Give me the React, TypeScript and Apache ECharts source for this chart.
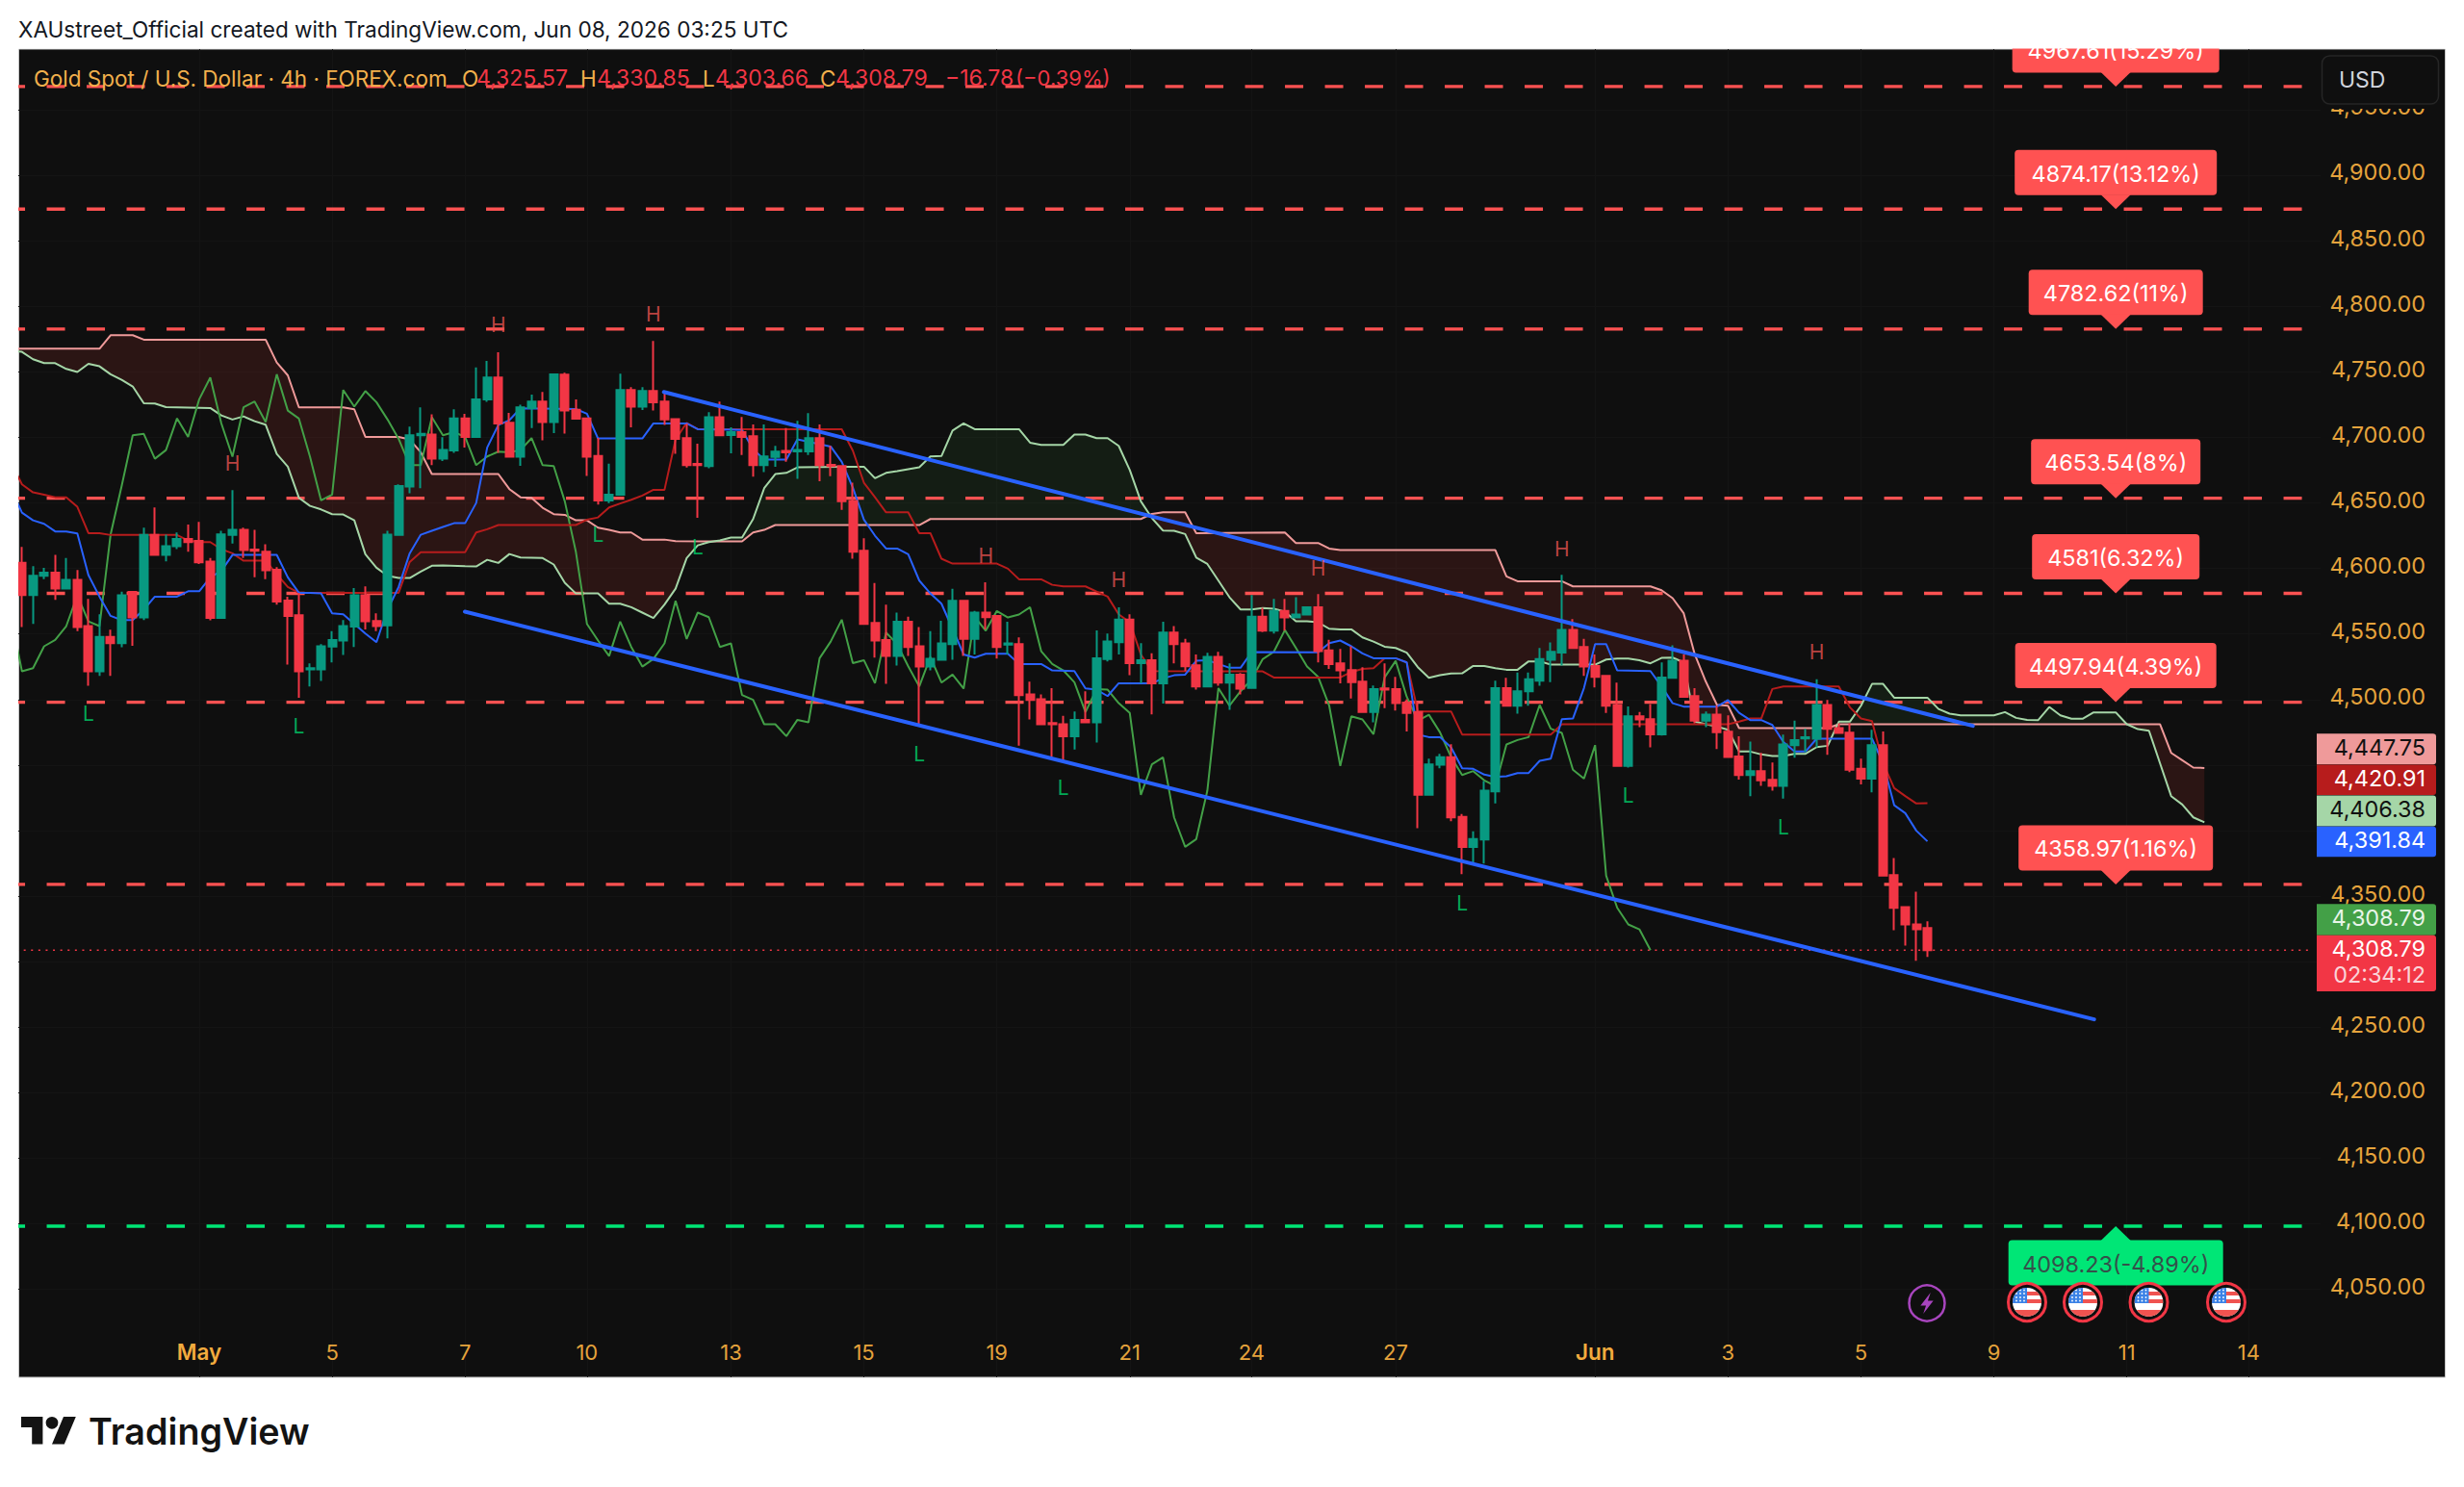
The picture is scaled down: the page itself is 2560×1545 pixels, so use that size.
import React, { useEffect, useRef } from 'react';
import * as echarts from 'echarts';

// 4h candles
const opens = [
  4604.2, 4579.7, 4594.4, 4596.8, 4584.6, 4591.2, 4556, 4521.5, 4547.7, 4543,
  4582, 4562.6, 4625.5, 4610.3, 4616.9, 4622.5, 4621, 4605.2, 4562.3, 4625.5,
  4629.4, 4614.4, 4612.7, 4599, 4575.5, 4564.3, 4522.9, 4522.9, 4540.4, 4545,
  4555.7, 4579.5, 4559.9, 4556.5, 4625.5, 4662.4, 4701.6, 4702.1, 4683.7, 4690,
  4714.5, 4700.3, 4729, 4745.6, 4711.1, 4685.2, 4722.4, 4727.3, 4711.6, 4747.8,
  4721.1, 4714.5, 4685.7, 4651.9, 4656.3, 4736.1, 4723.4, 4735.3, 4727.3, 4713.8,
  4699.4, 4679.8, 4678.1, 4715.3, 4701.8, 4704, 4700.8, 4678.8, 4685, 4689.6,
  4689.3, 4689.3, 4699.4, 4679, 4678.1, 4651.4, 4613.5, 4558.4, 4545.4, 4533.2,
  4559.4, 4540.6, 4525.1, 4530.3, 4542.3, 4575.3, 4546.2, 4566.3, 4563.8, 4541.8,
  4542.3, 4503.9, 4500.2, 4482.1, 4481.1, 4472, 4484.5, 4482.6, 4530.8, 4543.7,
  4560.9, 4527.8, 4530, 4512.4, 4551.1, 4542.8, 4526.1, 4510, 4532.5, 4512.9,
  4519, 4508.8, 4563.1, 4552.5, 4567.5, 4562.6, 4564.8, 4570.4, 4537.4, 4527.6,
  4522.4, 4513.6, 4490.4, 4508.5, 4508, 4497.7, 4490.4, 4427.3, 4450.3, 4455.9,
  4410.4, 4387.6, 4393.2, 4429.9, 4508.7, 4495.3, 4506.3, 4514.4, 4530.3, 4535.9,
  4553, 4540, 4525.6, 4518, 4495.8, 4449.3, 4487.2, 4485, 4473.5, 4516.6,
  4529.5, 4502.6, 4483.8, 4488.4, 4475.5, 4456.6, 4442.4, 4445.4, 4438.8, 4434.1,
  4465.2, 4470.3, 4470.1, 4495.8, 4478.2, 4474.7, 4447.1, 4439.7, 4465.2, 4366,
  4341.6, 4328.4, 4325.57,
];
const closes = [
  4579.7, 4594.4, 4596.8, 4584.6, 4591.2, 4555.2, 4521.5, 4547.7, 4543, 4579.5,
  4562.6, 4625.5, 4610.3, 4616.9, 4622.5, 4620.1, 4604.7, 4562.3, 4626, 4629.4,
  4614, 4613.5, 4598.6, 4574.8, 4563.8, 4521.5, 4523.9, 4540.6, 4545.4, 4556,
  4579.5, 4559.6, 4556, 4625.7, 4662.9, 4701.6, 4702.6, 4683.7, 4690.3, 4714.5,
  4700.3, 4729, 4745.6, 4710.6, 4685.2, 4722.9, 4727.3, 4711.6, 4748.1, 4720.4,
  4714.3, 4685.2, 4651.9, 4656.3, 4736.1, 4723.4, 4735.3, 4726.8, 4713.6, 4698.9,
  4678.8, 4678.8, 4715.3, 4701.6, 4704, 4700.3, 4678.8, 4685.4, 4689.1, 4688.6,
  4690.3, 4699.4, 4678.8, 4678.1, 4651.2, 4612.7, 4557.7, 4545, 4533.2, 4559.4,
  4540.1, 4525.1, 4531, 4542.8, 4575.3, 4546.2, 4566.3, 4562.8, 4540.1, 4542.8,
  4503.4, 4499.7, 4481.1, 4481.1, 4472, 4484.5, 4482.6, 4531.5, 4544.2, 4560.9,
  4527.8, 4530, 4512.4, 4551.1, 4542.3, 4525.4, 4510, 4532.5, 4512.9, 4519,
  4508.3, 4563.1, 4552.5, 4567.5, 4562.6, 4564.8, 4570.4, 4536.9, 4527.1, 4522.2,
  4513.2, 4490.4, 4508, 4507.5, 4497.2, 4489.7, 4427.3, 4450.5, 4455.9, 4410.1,
  4387.6, 4393.5, 4430.4, 4508.7, 4495.3, 4506.3, 4515.4, 4530.8, 4536.4, 4553,
  4539.3, 4525.1, 4517.3, 4495.3, 4449.3, 4487.2, 4484.8, 4473.5, 4516.8, 4529.5,
  4502.1, 4483.8, 4488.4, 4475, 4456.1, 4442.4, 4445.4, 4438.3, 4434.1, 4465.7,
  4469.1, 4471.3, 4495.8, 4477.7, 4474.5, 4446.4, 4439.7, 4465.2, 4365.6, 4341.1,
  4328.4, 4324.7, 4308.79,
];
const highs = [
  4616.4, 4601.7, 4600.5, 4610.3, 4607.9, 4598.8, 4576.8, 4565, 4553.3, 4582.2,
  4582.2, 4631.1, 4646.5, 4625.7, 4627.4, 4633.5, 4635.5, 4607.9, 4628.7, 4659.7,
  4631.1, 4629.4, 4618.4, 4601, 4578.5, 4581.4, 4527.6, 4542.3, 4552.1, 4560.6,
  4585.1, 4586.3, 4565.8, 4628.7, 4664.1, 4708.2, 4722.9, 4717.5, 4700.1, 4721.4,
  4718, 4753.4, 4758.3, 4764.9, 4718.7, 4724.8, 4732.6, 4734.6, 4748.5, 4749.3,
  4729, 4714.9, 4699.6, 4680, 4748.6, 4738.3, 4738.3, 4773.5, 4733.9, 4714,
  4710.6, 4695.2, 4719.2, 4727.3, 4707.7, 4715.5, 4709.9, 4709.9, 4693.5, 4707,
  4712.6, 4718.5, 4709.9, 4693.5, 4678.3, 4665.4, 4623, 4588.8, 4572.4, 4566.3,
  4563.1, 4555.2, 4552.1, 4560.1, 4584.4, 4575.8, 4567.5, 4589.5, 4564, 4559.4,
  4547.4, 4513.6, 4503.9, 4508.7, 4487.5, 4490.9, 4506.3, 4552.8, 4550.4, 4570.4,
  4565, 4543, 4535.2, 4559.4, 4556, 4546.2, 4534.4, 4535.7, 4536.4, 4527.6,
  4520.2, 4579.7, 4569.9, 4576.8, 4576.8, 4578, 4571.1, 4580.4, 4545.5, 4538.6,
  4540.6, 4524.7, 4510.7, 4527.6, 4517.3, 4500.2, 4498.2, 4454.9, 4458.6, 4465.9,
  4412.6, 4399.4, 4437.8, 4514.4, 4516.6, 4520.5, 4520.5, 4539.4, 4543.5, 4595.1,
  4561.4, 4546.2, 4534.4, 4518.5, 4512.9, 4494.8, 4490.4, 4496.5, 4528.3, 4541.3,
  4534.4, 4508.7, 4490.9, 4495.3, 4487.9, 4472, 4467.9, 4459.3, 4452, 4473.3,
  4483.8, 4477.7, 4515.4, 4499.7, 4481.8, 4481.8, 4454.9, 4476.9, 4475.7, 4379.1,
  4342, 4353.4, 4330.85,
];
const lows = [
  4555.2, 4557.7, 4591.9, 4576, 4584, 4552.1, 4510.5, 4518, 4518, 4539.8,
  4541, 4560.6, 4610, 4605.4, 4614.7, 4612.7, 4603.4, 4560.4, 4562, 4618.9,
  4607.9, 4593.2, 4591.9, 4572.4, 4526.6, 4501.4, 4510, 4514.1, 4528.3, 4534,
  4540.1, 4553.5, 4552.1, 4546.7, 4625, 4657.3, 4661.2, 4678.8, 4682, 4688.1,
  4692.3, 4700, 4727, 4688.1, 4685, 4678.3, 4707, 4697.7, 4703.3, 4702.8,
  4714, 4670.5, 4648.7, 4649.9, 4655.6, 4707.7, 4720.9, 4720.4, 4709.4, 4687.4,
  4676.9, 4638.7, 4676.4, 4701, 4687.9, 4686.6, 4670, 4673.4, 4677.6, 4681.3,
  4668.3, 4686.6, 4666.6, 4670.3, 4644.6, 4607.4, 4557, 4532, 4511.9, 4525.9,
  4533.2, 4480.6, 4522.2, 4529.5, 4530.3, 4533.2, 4534.4, 4553.5, 4531.3, 4534.4,
  4464.7, 4484.8, 4480.9, 4456.1, 4453.2, 4461.8, 4481.8, 4467.1, 4529.1, 4534.4,
  4518.5, 4512.4, 4488.7, 4497, 4527.6, 4521.7, 4507.5, 4509.5, 4510.5, 4492.1,
  4503.9, 4508.5, 4551.5, 4550.3, 4552.5, 4562, 4564.5, 4528.3, 4523.4, 4512.4,
  4500.7, 4490, 4482.6, 4493.4, 4491.6, 4475.7, 4401.8, 4426.8, 4447.6, 4407.2,
  4366.8, 4375.4, 4374.9, 4420.7, 4495, 4489.2, 4495.3, 4510.5, 4513.2, 4525.9,
  4539, 4518, 4509.2, 4489.7, 4448.8, 4448, 4478.9, 4463.5, 4472.5, 4516,
  4501.7, 4481.8, 4478.9, 4462.3, 4455.6, 4439, 4426.3, 4434.1, 4430.4, 4424.4,
  4455.6, 4459.8, 4463.5, 4457.9, 4474, 4444.6, 4435.3, 4429.2, 4365.2, 4324,
  4312.3, 4300.7, 4303.66,
];

// ichimoku lines as [bar, price] at each vertex
const senkouB: number[][] = [
  [-0.5, 4767.6], [7, 4767.6], [8, 4777.9], [10, 4777.9], [11, 4774.5], [22, 4774.5], [23, 4757.1], [24, 4747.3],
  [25, 4722.9], [29, 4722.9], [30, 4721.4], [31, 4700.3], [34, 4700.3], [35, 4698.4], [36, 4688.6], [37, 4672],
  [43, 4672], [44, 4660.5], [45, 4654.3], [46, 4653.9], [47, 4646.3], [48, 4641.4], [49, 4640.9], [50, 4636.7],
  [51, 4636.7], [52, 4631.1], [53, 4629.4], [54, 4627.4], [55, 4627.4], [56, 4622], [58, 4622], [59, 4620.8],
  [62, 4620.7], [65, 4620.6], [66, 4627.4], [67, 4629.4], [68, 4633.1], [81, 4633.1], [82, 4637.7], [101, 4637.7],
  [102, 4641.6], [103, 4642.8], [105, 4642.8], [106, 4626.9], [114, 4627.4], [115, 4619.4], [117, 4619.4], [118, 4615.2],
  [119, 4614], [133, 4614], [134, 4593.9], [135, 4590.2], [139, 4590.2], [140, 4586.3], [147, 4586.3], [148, 4583.4],
  [149, 4577.3], [150, 4565.8], [151, 4534.4], [152, 4513.6], [153, 4496], [154, 4495.3], [155, 4478.2], [163, 4478.2],
  [164, 4481.1], [190, 4481.1], [193, 4481.1], [194, 4459.3], [195, 4453.7], [196, 4448.1], [197, 4447.75],
];
const senkouA: number[][] = [
  [-0.5, 4765.7], [0, 4765.2], [1, 4759.6], [2, 4756.6], [3, 4756.6], [4, 4752.2], [5, 4749.8], [6, 4756.1], [7, 4754.2],
  [8, 4748.1], [9, 4743.9], [10, 4738.8], [11, 4726], [12, 4725.8], [13, 4723.1], [17, 4722.4], [18, 4716.7], [19, 4713.6],
  [20, 4716], [21, 4712.3], [22, 4709.6], [23, 4687.4], [24, 4677.6], [25, 4653.9], [26, 4647.7], [27, 4645], [28, 4641.4],
  [29, 4641.1], [30, 4636.7], [31, 4610.8], [32, 4600.5], [33, 4594.4], [34, 4592.7], [35, 4592.7], [36, 4597.6], [37, 4602],
  [38, 4602.2], [40, 4601.7], [41, 4601.5], [42, 4606.6], [43, 4604.2], [44, 4611], [45, 4608.3], [47, 4607.9], [48, 4603],
  [49, 4589], [50, 4580.9], [52, 4580.9], [53, 4573.1], [54, 4573.1], [55, 4570.4], [56, 4566.3], [57, 4562.1], [58, 4572.4],
  [59, 4584.6], [60, 4607.9], [61, 4617.6], [62, 4620.1], [63, 4621.3], [64, 4623.5], [65, 4623.5], [66, 4637.7], [67, 4661.2],
  [68, 4672], [69, 4672.9], [70, 4677.1], [74, 4677.6], [76, 4677.6], [77, 4668.8], [78, 4672.9], [79, 4674.2], [81, 4677.1],
  [82, 4685.4], [83, 4685.7], [84, 4705.2], [85, 4710.6], [86, 4706.2], [90, 4706.2], [91, 4695.9], [92, 4694.2], [94, 4694.2],
  [95, 4702.1], [96, 4702.1], [97, 4699.4], [98, 4699.4], [99, 4693.5], [100, 4675.1], [101, 4651.2], [102, 4638.4], [103, 4628.9],
  [104, 4628.7], [105, 4626.2], [106, 4608.3], [107, 4603.4], [108, 4590.7], [109, 4578], [110, 4568.7], [111, 4568.7], [112, 4569.7],
  [113, 4569.2], [114, 4567], [115, 4559.6], [116, 4559.6], [117, 4558.9], [118, 4554], [119, 4553.5], [120, 4553.5], [121, 4547.4],
  [122, 4544.2], [123, 4540.3], [124, 4539.3], [125, 4535.7], [126, 4524.7], [127, 4516.6], [128, 4518.5], [129, 4519.8], [130, 4520],
  [131, 4525.6], [132, 4525.6], [133, 4523.9], [134, 4522.7], [135, 4522.7], [136, 4529.1], [137, 4529.1], [138, 4526.6], [142, 4526.6],
  [143, 4530.5], [144, 4531.3], [145, 4531.3], [146, 4530], [147, 4527.6], [148, 4531.7], [149, 4532], [150, 4528.3], [151, 4483.1],
  [152, 4481.1], [153, 4479.4], [154, 4476.9], [155, 4460.3], [156, 4460.3], [157, 4458.1], [158, 4456.9], [159, 4456.9], [160, 4458.6],
  [161, 4458.6], [162, 4463.7], [163, 4464.7], [164, 4483.1], [165, 4483.1], [166, 4495.3], [167, 4511.9], [168, 4511.9], [169, 4501.4],
  [172, 4501.4], [173, 4492.8], [174, 4489.2], [175, 4487.9], [178, 4487.9], [179, 4490.4], [180, 4486], [181, 4484.5], [182, 4484.3],
  [183, 4494.3], [184, 4487.9], [185, 4485.3], [186, 4485.3], [187, 4490.2], [189, 4490.2], [190, 4481.1], [191, 4477.4], [192, 4476.2],
  [193, 4451.2], [194, 4426.3], [195, 4419.9], [196, 4410.1], [197, 4406.38],
];
const kijun: number[][] = [
  [-0.5, 4672.7], [0, 4664.1], [1, 4658], [2, 4656.3], [3, 4654.3], [4, 4654.3], [5, 4647], [6, 4626.9], [7, 4626.9], [8, 4625.5],
  [14, 4625.5], [15, 4621.3], [16, 4620.1], [17, 4620.1], [18, 4614.7], [19, 4611.5], [20, 4605.9], [22, 4605.9], [23, 4595.6],
  [24, 4585.8], [25, 4581.4], [34, 4581.4], [35, 4604.9], [36, 4612.3], [40, 4612.3], [41, 4627.4], [42, 4629.9], [43, 4633.1],
  [50, 4633.1], [51, 4637.2], [52, 4638.9], [53, 4646.5], [54, 4649.5], [55, 4652.4], [56, 4655.6], [57, 4660], [58, 4660],
  [59, 4698.4], [60, 4711.1], [61, 4706.2], [74, 4706.2], [75, 4689.8], [76, 4665.4], [77, 4654.3], [78, 4642.8], [80, 4642.8],
  [81, 4626.9], [82, 4626.9], [83, 4607.4], [84, 4603.7], [88, 4603.7], [89, 4599.8], [90, 4591.7], [92, 4591.7], [93, 4587.5],
  [94, 4586.3], [96, 4586.3], [97, 4582.4], [98, 4578.5], [99, 4565], [100, 4558.9], [101, 4534.4], [102, 4521.7], [112, 4521.5],
  [113, 4516.8], [119, 4516.8], [120, 4521], [121, 4523.4], [122, 4523.9], [123, 4531.5], [124, 4531.5], [125, 4528.3], [126, 4490.9],
  [129, 4490.9], [130, 4473.3], [138, 4473.3], [139, 4481.1], [154, 4481.1], [155, 4483.1], [156, 4485.5], [157, 4485.5], [158, 4508],
  [159, 4510], [164, 4510], [165, 4494.1], [166, 4485.5], [167, 4483.5], [168, 4451.2], [169, 4432.4], [170, 4426.3], [171, 4420.7],
  [172, 4420.91],
];
const tenkan: number[][] = [
  [-0.5, 4651.9], [0, 4642.6], [1, 4636.7], [2, 4634], [3, 4628.2], [4, 4628.2], [5, 4626.7], [6, 4594.9], [7, 4578.5], [8, 4563.8],
  [9, 4560.6], [10, 4560.6], [11, 4568.7], [12, 4578.5], [14, 4578.5], [15, 4582.6], [16, 4582.6], [17, 4593.2], [18, 4598.1],
  [19, 4610.3], [23, 4610.3], [24, 4593.2], [25, 4581.4], [26, 4581.4], [27, 4580.9], [28, 4565.8], [29, 4565], [30, 4557.7],
  [31, 4550.3], [32, 4543.7], [33, 4568.7], [34, 4585.8], [35, 4611.5], [36, 4625.7], [37, 4628.7], [38, 4631.6], [39, 4634.5],
  [40, 4634.5], [41, 4649.9], [42, 4692.3], [43, 4709.4], [44, 4713.1], [45, 4722.1], [50, 4721.6], [51, 4718], [52, 4699.1],
  [56, 4699.1], [57, 4710.6], [60, 4710.6], [61, 4706.2], [65, 4705.7], [66, 4691], [67, 4683], [69, 4683], [70, 4698.4], [73, 4693],
  [74, 4681.3], [75, 4661.7], [76, 4637.2], [77, 4625], [78, 4615.2], [79, 4615.2], [80, 4610.8], [81, 4590.7], [82, 4580.9],
  [83, 4573.1], [84, 4554], [85, 4534.4], [86, 4532], [87, 4534.9], [89, 4534.9], [90, 4527.1], [92, 4527.1], [93, 4522.2], [95, 4521.7],
  [96, 4508.5], [97, 4507.5], [98, 4502.6], [99, 4512.4], [102, 4512.4], [103, 4516.1], [104, 4518.5], [105, 4519], [106, 4529.5],
  [107, 4530], [108, 4527.1], [109, 4524.2], [110, 4524.2], [111, 4536.2], [117, 4536], [118, 4543], [119, 4545], [120, 4540.6],
  [121, 4535.2], [122, 4531.5], [124, 4531.5], [125, 4528.3], [126, 4473.3], [127, 4471.3], [128, 4471.3], [129, 4463.5], [130, 4447.6],
  [131, 4447.1], [132, 4442.7], [133, 4441], [134, 4441.5], [135, 4443.9], [136, 4443.9], [137, 4453.2], [138, 4454.9], [139, 4485],
  [140, 4485.5], [141, 4508.8], [142, 4542.3], [143, 4542.3], [144, 4522.2], [147, 4521.7], [148, 4510], [149, 4497.2], [150, 4494.6],
  [153, 4494.6], [154, 4499.5], [155, 4489.9], [156, 4484.3], [157, 4484.3], [158, 4480.6], [159, 4467.6], [160, 4460.3], [161, 4460.3],
  [162, 4470.1], [167, 4470.1], [168, 4451.2], [169, 4419.4], [170, 4413.3], [171, 4399.9], [172, 4391.84],
];

// cloud stretches between crossings of the two spans
const cloudRegions = [
  [-0.5, 62, 'rgba(244,67,54,0.12)'],
  [62, 102, 'rgba(67,160,71,0.1)'],
  [102, 164, 'rgba(244,67,54,0.12)'],
  [164, 190, 'rgba(67,160,71,0.1)'],
  [190, 197, 'rgba(244,67,54,0.12)'],
];

// trend channel
const upperTrend = [[57.94, 4734.6], [176.1, 4479.9]];
const lowerTrend = [[39.98, 4567], [187.05, 4256]];

// target levels
const levelPrices = [4967.61, 4874.17, 4782.62, 4653.54, 4581, 4497.94, 4358.97, 4098.23];
const levelLabels = [
  '4967.61(15.29%)', '4874.17(13.12%)', '4782.62(11%)', '4653.54(8%)',
  '4581(6.32%)', '4497.94(4.39%)', '4358.97(1.16%)', '4098.23(-4.89%)',
];
const tagWidths = [215, 210, 181, 176, 174, 209, 202, 223];
const tagBar = 189;

const highMarks = [[43, 4786], [57, 4793.8], [19, 4680], [87, 4609.6], [99, 4591.2], [117, 4600], [139, 4614.7], [162, 4536.2]];
const lowMarks = [[6, 4489.2], [25, 4479.4], [52, 4625.7], [61, 4615.9], [81, 4458.1], [94, 4433], [130, 4344.8], [145, 4426.8], [159, 4402.3]];

const lastPrice = 4308.79;
const priceTicks = [4050, 4100, 4150, 4200, 4250, 4300, 4350, 4400, 4450, 4500, 4550, 4600, 4650, 4700, 4750, 4800, 4850, 4900, 4950];
// 4,300 / 4,400 / 4,450 sit behind the price tags
const priceLabels = [4050, 4100, 4150, 4200, 4250, 4350, 4500, 4550, 4600, 4650, 4700, 4750, 4800, 4850, 4900, 4950];
const timeTickBars = [16, 28, 40, 51, 64, 76, 88, 100, 111, 124, 142, 154, 166, 178, 190, 201];
const timeTickLabels = ['May', '5', '7', '10', '13', '15', '19', '21', '24', '27', 'Jun', '3', '5', '9', '11', '14'];

const BAR_COUNT = 208;
const FONT = 'Inter';
const AXIS_ORANGE = '#E5A33C';

const categories = Array.from({ length: BAR_COUNT }, (_, i) => {
  const at = timeTickBars.indexOf(i);
  return at >= 0 ? timeTickLabels[at] : '';
});

const flagSvg =
  "<svg xmlns='http://www.w3.org/2000/svg' width='90' height='90' viewBox='0 0 30 30'>" +
  "<clipPath id='c'><circle cx='15' cy='15' r='15'/></clipPath><g clip-path='url(#c)'>" +
  "<rect width='30' height='30' fill='#fff'/>" +
  "<rect y='4' width='30' height='4' fill='#F05350'/><rect y='12' width='30' height='4' fill='#F05350'/>" +
  "<rect y='23' width='30' height='8' fill='#F05350'/>" +
  "<rect width='15' height='16' fill='#3B82E6'/>" +
  "<g fill='#fff'><circle cx='4' cy='6' r='.9'/><circle cx='8' cy='6' r='.9'/><circle cx='12' cy='6' r='.9'/>" +
  "<circle cx='4' cy='10' r='.9'/><circle cx='8' cy='10' r='.9'/><circle cx='12' cy='10' r='.9'/>" +
  "<circle cx='8' cy='2.5' r='.9'/><circle cx='12' cy='2.5' r='.9'/><circle cx='4' cy='13.5' r='.9'/><circle cx='8' cy='13.5' r='.9'/><circle cx='12' cy='13.5' r='.9'/></g>" +
  '</g></svg>';
const flagImage = 'data:image/svg+xml;charset=utf-8,' + encodeURIComponent(flagSvg);

echarts.graphic.registerShape(
  'tvMark',
  echarts.graphic.extendPath('M14 22H7V11H0V4h14v18ZM28 22h-8l7.5-18h8L28 22ZM16 8a4 4 0 1 0 8 0a4 4 0 1 0 -8 0Z', {}),
);
echarts.graphic.registerShape(
  'bolt',
  echarts.graphic.extendPath('M4 -13L-7 3H-1L-4 13L7 -3H1Z', {}),
);

const txt = (text: string, x: number, y: number, fill: string, size = 22, extra: any = {}) => ({
  type: 'text',
  x,
  y,
  z: 60,
  style: {
    text,
    fill,
    font: `${extra.weight || 400} ${size}px ${FONT}`,
    textAlign: extra.align || 'left',
    textVerticalAlign: 'middle',
  },
});

const priceTag = (label: string, top: number, h: number, fill: string, color: string) => [
  { type: 'rect', z: 55, shape: { x: 2407, y: top, width: 124, height: h, r: [0, 3, 3, 0] }, style: { fill } },
  txt(label, 2520, top + h / 2 - 2, color, 23.4, { align: 'right' }),
];

const flagAt = (x: number) => [
  { type: 'circle', z: 58, shape: { cx: x, cy: 1353, r: 19.5 }, style: { fill: '#0F0F0F', stroke: '#F23645', lineWidth: 3 } },
  { type: 'image', z: 59, style: { image: flagImage, x: x - 15, y: 1338, width: 30, height: 30 } },
];

const lineSeries = (name: string, data: number[][], color: string, width: number, z: number) => ({
  name,
  type: 'line',
  xAxisIndex: 1,
  data,
  symbol: 'none',
  z,
  lineStyle: { color, width },
  emphasis: { disabled: true },
});

const markSeries = (marks: number[][], text: string, color: string) => ({
  type: 'scatter',
  xAxisIndex: 1,
  data: marks,
  symbolSize: 1,
  z: 7,
  itemStyle: { color: 'transparent' },
  label: { show: true, position: 'inside', formatter: text, color, fontFamily: FONT, fontSize: 21 },
});

export default function App() {
  const chartRef = useRef<HTMLDivElement>(null);

  useEffect(() => {
    document.body.style.margin = '0';
    document.body.style.background = '#fff';
    if (!chartRef.current) return;
    const chart = echarts.init(chartRef.current, undefined, { renderer: 'svg' });

    const candleData = opens.map((o, i) => [o, closes[i], lows[i], highs[i]]);
    // lagging span is the close drawn 25 bars back
    const chikou = closes.map((c, i) => [i - 25, c]).filter(p => p[0] >= -1);

    const levelSeries = levelPrices.map(p => ({
      type: 'line',
      xAxisIndex: 1,
      symbol: 'none',
      z: 2,
      data: [[-0.5, p], [206.16, p]],
      lineStyle: {
        color: p < lastPrice ? '#00E676' : '#FF5252',
        width: 3.4,
        type: [19, 22.5],
        dashOffset: 9.55,
      },
    }));

    const option: any = {
      animation: false,
      backgroundColor: '#ffffff',
      grid: { left: 17.05, top: 51, width: 2394.08, height: 1380, containLabel: false },
      xAxis: [
        {
          type: 'category',
          data: categories,
          position: 'bottom',
          axisLine: { show: false },
          axisTick: { show: false },
          splitLine: { show: false },
          axisLabel: {
            interval: 0,
            inside: true,
            margin: 15.5,
            color: AXIS_ORANGE,
            fontFamily: FONT,
            fontSize: 22,
            formatter: (v: string) => (v === 'May' || v === 'Jun' ? `{b|${v}}` : v),
            rich: { b: { color: '#F2AB3E', fontFamily: FONT, fontSize: 22.5, fontWeight: 600 } },
          },
        },
        {
          type: 'value',
          min: -0.5,
          max: BAR_COUNT - 0.5,
          position: 'bottom',
          axisLine: { show: false },
          axisTick: { show: false, customValues: timeTickBars },
          axisLabel: { show: false },
          splitLine: { show: true, lineStyle: { color: '#141414', width: 1 } },
        },
      ],
      yAxis: {
        type: 'value',
        min: 3982.96,
        max: 4996.18,
        position: 'right',
        axisLine: { show: false },
        axisTick: { show: false, customValues: priceTicks },
        splitLine: { show: true, lineStyle: { color: '#141414', width: 1 } },
        axisLabel: {
          customValues: priceLabels,
          align: 'right',
          verticalAlign: 'bottom',
          lineHeight: 6,
          margin: 109,
          color: AXIS_ORANGE,
          fontFamily: FONT,
          fontSize: 23.4,
          formatter: (v: number) => v.toLocaleString('en-US', { minimumFractionDigits: 2 }),
        },
      },
      series: [
        {
          type: 'custom',
          xAxisIndex: 1,
          z: 1,
          clip: true,
          data: cloudRegions.map((r, i) => [r[0], i]),
          encode: { x: 0, y: 1 },
          renderItem: (params: any, api: any) => {
            const [from, to, fill] = cloudRegions[params.dataIndex] as any;
            const inside = (p: number[]) => p[0] >= from && p[0] <= to;
            const top = senkouA.filter(inside);
            const bottom = senkouB.filter(inside).reverse();
            return {
              type: 'polygon',
              shape: { points: [...top, ...bottom].map(p => api.coord(p)) },
              style: { fill },
            };
          },
        },
        ...levelSeries,
        {
          type: 'line',
          xAxisIndex: 1,
          symbol: 'none',
          z: 2,
          data: [[-0.5, lastPrice], [206.8, lastPrice]],
          lineStyle: { color: '#F23645', width: 1.5, type: [2, 5.6] },
        },
        lineSeries('Senkou B', senkouB, '#EF9A9A', 2, 3),
        lineSeries('Senkou A', senkouA, '#A5D6A7', 2, 3),
        lineSeries('Lagging', chikou, '#43A047', 2, 3),
        lineSeries('Kijun', kijun, '#B71C1C', 2, 3),
        lineSeries('Tenkan', tenkan, '#2962FF', 2, 3),
        {
          type: 'candlestick',
          xAxisIndex: 0,
          z: 4,
          barWidth: 8.5,
          data: candleData,
          itemStyle: {
            color: '#089981',
            color0: '#F23645',
            borderColor: '#089981',
            borderColor0: '#F23645',
            borderWidth: 2,
          },
        },
        { ...lineSeries('Upper', upperTrend, '#2962FF', 4, 5), lineStyle: { color: '#2962FF', width: 4, cap: 'round' } },
        { ...lineSeries('Lower', lowerTrend, '#2962FF', 4, 5), lineStyle: { color: '#2962FF', width: 4, cap: 'round' } },
        markSeries(highMarks, 'H', '#E8524F'),
        markSeries(lowMarks, 'L', '#00D26A'),
        {
          type: 'custom',
          xAxisIndex: 1,
          z: 8,
          data: levelPrices.map(p => [tagBar, p]),
          encode: { x: 0, y: 1 },
          renderItem: (params: any, api: any) => {
            const i = params.dataIndex;
            const [cx, cy] = api.coord([api.value(0), api.value(1)]);
            const w = tagWidths[i];
            const below = levelPrices[i] < lastPrice;
            const fill = below ? '#00E676' : '#FF5252';
            const dir = below ? 1 : -1;
            const boxTop = below ? cy + 14.5 : cy - 14.5 - 47;
            return {
              type: 'group',
              children: [
                { type: 'rect', shape: { x: cx - w / 2, y: boxTop, width: w, height: 47, r: 4 }, style: { fill } },
                {
                  type: 'polygon',
                  shape: { points: [[cx - 15.5, cy + dir * 15], [cx + 15.5, cy + dir * 15], [cx, cy]] },
                  style: { fill },
                },
                {
                  type: 'text',
                  style: {
                    text: levelLabels[i],
                    x: cx,
                    y: boxTop + 24.5,
                    fill: below ? '#35504A' : '#FFFFFF',
                    font: `400 23.4px ${FONT}`,
                    textAlign: 'center',
                    textVerticalAlign: 'middle',
                  },
                },
              ],
            };
          },
        },
      ],
      graphic: {
        elements: [
          // pane behind the series
          { type: 'rect', z: -1, shape: { x: 19.5, y: 51, width: 2521, height: 1380 }, style: { fill: '#0F0F0F', stroke: '#C4C4C4', lineWidth: 1 } },
          // page margin over anything that runs past the pane
          { type: 'rect', z: 50, shape: { x: 0, y: 0, width: 2560, height: 50.5 }, style: { fill: '#fff' } },
          { type: 'rect', z: 50, shape: { x: 0, y: 0, width: 19, height: 1545 }, style: { fill: '#fff' } },
          txt('XAUstreet_Official created with TradingView.com, Jun 08, 2026 03:25 UTC', 19, 30, '#131722', 22.6),
          txt('Gold Spot / U.S. Dollar · 4h · FOREX.com', 35, 81, '#F2B04C', 22.5),
          txt('O', 480, 81, '#F2B04C', 22.5),
          txt('4,325.57', 495, 81, '#F23645', 23),
          txt('H', 603, 81, '#F2B04C', 22.5),
          txt('4,330.85', 620, 81, '#F23645', 23),
          txt('L', 730, 81, '#F2B04C', 22.5),
          txt('4,303.66', 743, 81, '#F23645', 23),
          txt('C', 852, 81, '#F2B04C', 22.5),
          txt('4,308.79', 868, 81, '#F23645', 23),
          txt('−16.78', 982, 81, '#F23645', 23),
          txt('(−0.39%)', 1055, 81, '#F23645', 22),
          // price scale stays clear under the currency button
          { type: 'rect', z: 54, shape: { x: 2407, y: 52, width: 133, height: 61 }, style: { fill: '#0F0F0F' } },
          { type: 'rect', z: 55, shape: { x: 2412.5, y: 58, width: 121, height: 50, r: 8 }, style: { fill: '#0F0F0F', stroke: '#262626', lineWidth: 1.5 } },
          txt('USD', 2430, 82.5, '#D1D4DC', 23),
          ...priceTag('4,447.75', 762.3, 32, '#EF9A9A', '#111111'),
          ...priceTag('4,420.91', 794.5, 31.5, '#B71C1C', '#FFFFFF'),
          ...priceTag('4,406.38', 826.5, 32, '#A5D6A7', '#111111'),
          ...priceTag('4,391.84', 858.8, 31.5, '#2962FF', '#FFFFFF'),
          ...priceTag('4,308.79', 939.3, 32.4, '#43A047', '#E8F5E9'),
          { type: 'rect', z: 55, shape: { x: 2407, y: 971.7, width: 124, height: 58.3, r: [0, 3, 3, 0] }, style: { fill: '#F23645' } },
          txt('4,308.79', 2520, 985, '#FFFFFF', 23.4, { align: 'right' }),
          txt('02:34:12', 2520, 1012, '#FAD4D8', 23.4, { align: 'right' }),
          // event markers
          { type: 'circle', z: 58, shape: { cx: 2002, cy: 1354, r: 18.5 }, style: { fill: 'none', stroke: '#A845BE', lineWidth: 2.5 } },
          { type: 'bolt', z: 58, x: 2002, y: 1354, scaleX: 0.95, scaleY: 0.85, style: { fill: '#A845BE' } },
          ...flagAt(2106),
          ...flagAt(2164),
          ...flagAt(2232.5),
          ...flagAt(2313),
          // logo
          { type: 'tvMark', z: 60, x: 22, y: 1465.7, scaleX: 1.6, scaleY: 1.58, style: { fill: '#131313' } },
          txt('TradingView', 92, 1487, '#131313', 37.7, { weight: 600 }),
        ],
      },
    };

    chart.setOption(option);
    return () => {
      chart.dispose();
    };
  }, []);

  return <div ref={chartRef} style={{ position: 'absolute', left: 0, top: 0, width: 2560, height: 1545 }} />;
}
